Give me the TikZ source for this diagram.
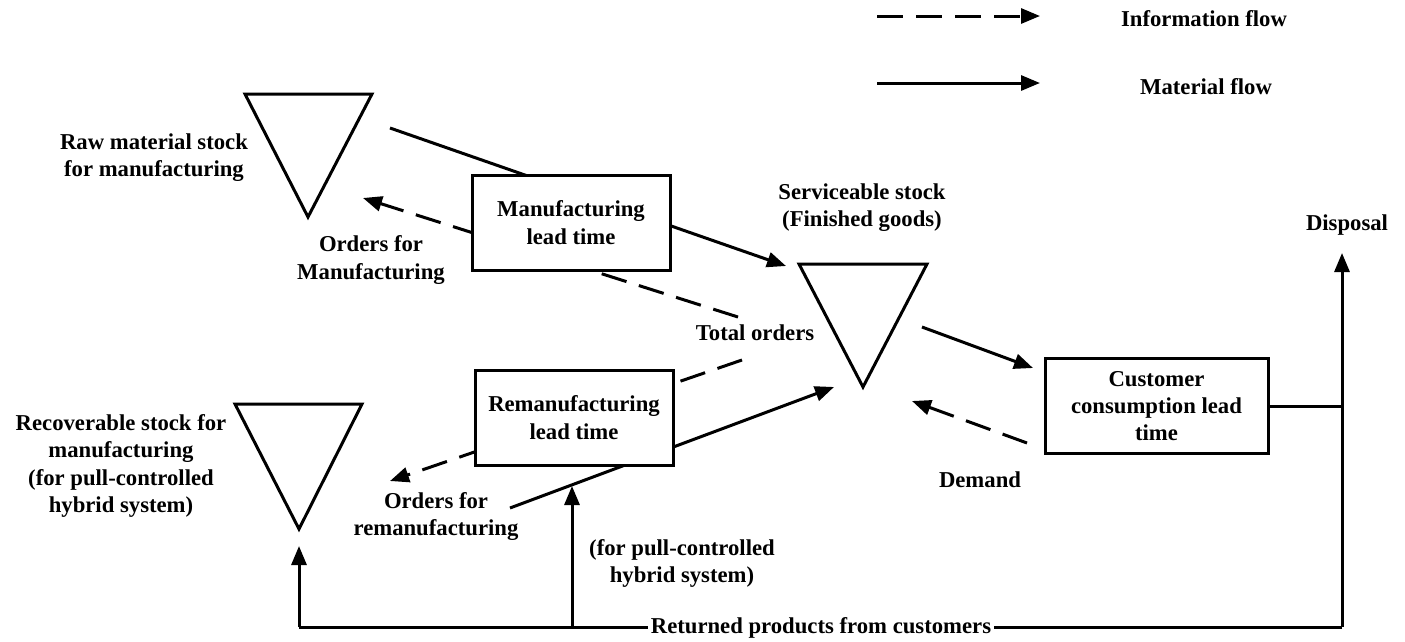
\documentclass[tikz,border=0pt]{standalone}
\usepackage{fontspec}
\setmainfont{Liberation Serif}
\usetikzlibrary{arrows.meta}
\begin{document}
\begin{tikzpicture}[x=1pt,y=-1pt,
  every node/.style={font=\bfseries\fontsize{22.7}{27.3}\selectfont, align=center, inner sep=0pt},
  flow/.style={line width=3pt},
  info/.style={flow, dash pattern=on 26pt off 13pt},
  tip/.style={-{Triangle[length=19pt,width=15pt]}},
  box/.style={draw, line width=3pt, fill=white, minimum height=95pt},
  stock/.style={draw, line width=3pt, line join=miter}]
\useasboundingbox (0,0) rectangle (1405,641);

% legend
\coordinate (li1) at (877,16); \coordinate (li2) at (1040,16);
\coordinate (lm1) at (877,83); \coordinate (lm2) at (1040,83);
\draw[info,tip] (li1) -- (li2);
\draw[flow,tip] (lm1) -- (lm2);
\node (linfo) at (1204,19) {Information flow};
\node (lmat) at (1206,87) {Material flow};

% stocks (triangles)
\draw[stock] (245,94) -- (372,94) -- (308,217) -- cycle;
\draw[stock] (235,404) -- (362,404) -- (299,529) -- cycle;
\draw[stock] (799,264) -- (927,264) -- (863,387) -- cycle;
\coordinate (rawout) at (390,128);
\coordinate (rawin) at (363,198);
\coordinate (recin) at (299,546);
\coordinate (record) at (390,481);
\coordinate (servin) at (786,266);
\coordinate (servinr) at (834,387);
\coordinate (servout) at (922,327);
\coordinate (servdem) at (912,401);

% connectors behind boxes
\draw[flow,tip] (rawout) -- (servin);
\coordinate (tot1) at (738,317);
\coordinate (tot2) at (742,360);
\draw[info,tip] (tot1) -- (rawin);
\draw[info,tip] (tot2) -- (record);
\coordinate (remstart) at (510,508);
\draw[flow,tip] (remstart) -- (servinr);

% boxes
\node[box, minimum width=198pt] (mfg) at (571,222.5) {Manufacturing\\lead time};
\node[box, minimum width=198pt] (rem) at (574,417.5) {Remanufacturing\\lead time};
\node[box, minimum width=223pt] (cust) at (1156.5,406) {Customer\\consumption lead\\time};

% customer links
\coordinate (custin) at (1033,368);
\coordinate (demstart) at (1027,443);
\draw[flow,tip] (servout) -- (custin);
\draw[info,tip] (demstart) -- (servdem);

% return / disposal
\coordinate (junc) at (1342,406);
\coordinate (disp) at (1342,253);
\coordinate (br) at (1342,627);
\coordinate (bl) at (299,627);
\coordinate (bm) at (572,627);
\coordinate (remjoin) at (572,486);
\draw[flow] (cust.east) -- (junc);
\draw[flow,tip] (br) -- (disp);
\draw[flow] (br) -- (bl);
\draw[flow,tip] (bl) -- (recin);
\draw[flow,tip] (bm) -- (remjoin);
\node[fill=white, inner xsep=3pt, inner ysep=1pt] (ret) at (821,628) {Returned products from customers};

% labels
\node (rawlbl) at (154,157.5) {Raw material stock\\for manufacturing};
\node (omfg) at (371,260) {Orders for\\Manufacturing};
\node (servlbl) at (862,207.5) {Serviceable stock\\(Finished goods)};
\node (tot) at (755,333) {Total orders};
\node (reclbl) at (121,466) {Recoverable stock for\\manufacturing\\(for pull-controlled\\hybrid system)};
\node (orem) at (436,516.5) {Orders for\\remanufacturing};
\node (pull) at (682,563.5) {(for pull-controlled\\hybrid system)};
\node (dem) at (980,480) {Demand};
\node (displbl) at (1347,225) {Disposal};
\end{tikzpicture}
\end{document}
